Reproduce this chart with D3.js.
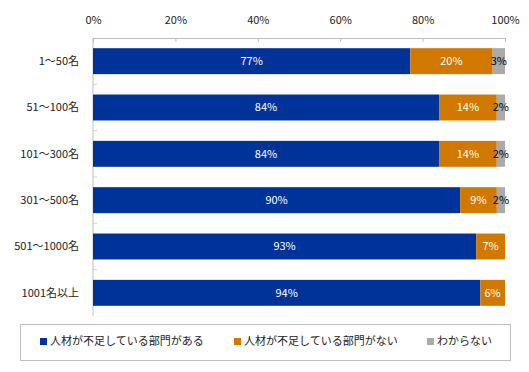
<!DOCTYPE html>
<html>
<head>
<meta charset="utf-8">
<script src="https://cdn.jsdelivr.net/npm/d3@7"></script>
<style>
  body { margin: 0; background: #fff; }
  text { font-family: "Noto Sans CJK JP", "DejaVu Sans", sans-serif; }
</style>
</head>
<body>
<div id="chart"></div>
<script>
// data
var categories = ["1～50名", "51～100名", "101～300名", "301～500名", "501～1000名", "1001名以上"];
var seriesNames = ["人材が不足している部門がある", "人材が不足している部門がない", "わからない"];
var shortage = [77, 84, 84, 90, 93, 94];
var noShortage = [20, 14, 14, 9, 7, 6];
var unknown = [3, 2, 2, 2, 0, 0];
var tickValues = [0, 0.2, 0.4, 0.6, 0.8, 1];
var colors = ["#00339a", "#d07800", "#aaaaaa"];
var labelColors = ["#fff", "#fff", "#000"];

var width = 529, height = 372;
var margin = {top: 38, right: 24, bottom: 56, left: 93};

var svg = d3.select("#chart").append("svg")
    .attr("width", width)
    .attr("height", height);

var rows = categories.map(function(c, i) {
    return {cat: c, s0: shortage[i], s1: noShortage[i], s2: unknown[i]};
});
var keys = ["s0", "s1", "s2"];
var stacked = d3.stack().keys(keys).offset(d3.stackOffsetExpand)(rows);

var x = d3.scaleLinear().domain([0, 1]).range([margin.left, width - margin.right]);
var y = d3.scaleBand().domain(categories)
    .range([margin.top, height - margin.bottom])
    .paddingInner(0.44).paddingOuter(0.22);

// top axis
var xAxis = svg.append("g")
    .attr("transform", "translate(0," + margin.top + ")")
    .call(d3.axisTop(x).tickValues(tickValues).tickFormat(d3.format(".0%")).tickSize(-4).tickPadding(14));
xAxis.select(".domain").attr("stroke", "#bfbfbf");
xAxis.selectAll(".tick line").attr("stroke", "#bfbfbf");
xAxis.selectAll(".tick text").attr("fill", "#222").attr("font-size", 11);

// left axis line and band ticks
svg.append("line")
    .attr("x1", margin.left).attr("x2", margin.left)
    .attr("y1", margin.top).attr("y2", height - margin.bottom)
    .attr("stroke", "#bfbfbf");
var step = y.step();
svg.selectAll(".bandtick")
    .data(categories.slice(1))
    .enter().append("line")
    .attr("x1", margin.left).attr("x2", margin.left + 4)
    .attr("y1", function(d) { return y(d) - (step - y.bandwidth()) / 2; })
    .attr("y2", function(d) { return y(d) - (step - y.bandwidth()) / 2; })
    .attr("stroke", "#d0d0d0");

svg.selectAll(".cat")
    .data(categories)
    .enter().append("text")
    .attr("x", 79)
    .attr("y", function(d) { return y(d) + y.bandwidth() / 2; })
    .attr("dy", "0.35em")
    .attr("text-anchor", "end")
    .attr("font-size", 11)
    .attr("fill", "#222")
    .text(function(d) { return d; });

// bars
var layer = svg.append("g").selectAll("g")
    .data(stacked)
    .enter().append("g")
    .attr("fill", function(d, i) { return colors[i]; });

layer.selectAll("rect")
    .data(function(d) { return d; })
    .enter().append("rect")
    .attr("x", function(d) { return x(d[0]); })
    .attr("y", function(d) { return y(d.data.cat); })
    .attr("width", function(d) { return x(d[1]) - x(d[0]); })
    .attr("height", y.bandwidth());

// value labels
stacked.forEach(function(s, si) {
    svg.append("g").selectAll("text")
        .data(s.filter(function(d) { return d.data[s.key] > 0; }))
        .enter().append("text")
        .attr("x", function(d) { return (x(d[0]) + x(d[1])) / 2; })
        .attr("y", function(d) { return y(d.data.cat) + y.bandwidth() / 2; })
        .attr("dy", "0.35em")
        .attr("text-anchor", "middle")
        .attr("font-size", 11)
        .attr("fill", labelColors[si])
        .text(function(d) { return d.data[s.key] + "%"; });
});

// legend
var legend = svg.append("g");
legend.append("rect")
    .attr("x", 20.5).attr("y", 324.5)
    .attr("width", 490).attr("height", 36)
    .attr("fill", "none").attr("stroke", "#bfbfbf");
var legendX = [40, 234, 427];
seriesNames.forEach(function(n, i) {
    legend.append("rect")
        .attr("x", legendX[i]).attr("y", 338)
        .attr("width", 7).attr("height", 7)
        .attr("fill", colors[i]);
    legend.append("text")
        .attr("x", legendX[i] + 10).attr("y", 341.5)
        .attr("dy", "0.35em")
        .attr("font-size", 11)
        .attr("fill", "#222")
        .text(n);
});
</script>
</body>
</html>
